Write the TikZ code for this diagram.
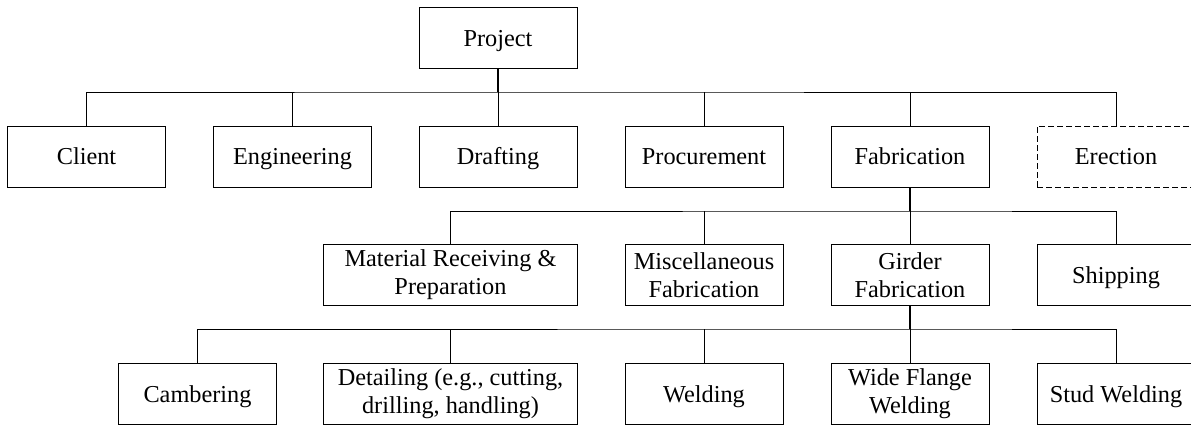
\documentclass[tikz,border=0pt]{standalone}
\usepackage{fontspec}
\setmainfont{Liberation Serif}
\begin{document}
\begin{tikzpicture}[x=1pt,y=-1pt,
  box/.style={draw=black, line width=1pt, rectangle, inner sep=0pt,
    minimum width=158pt, minimum height=61pt,
    text height=16.5pt, text depth=0pt,
    font=\fontsize{24.3}{28}\selectfont},
  twoline/.style={box, align=center, text height=, text depth=},
  widebox/.style={twoline, minimum width=254pt},
  dashbox/.style={box, dash pattern=on 6pt off 3pt},
  link/.style={draw=black, line width=1pt},
  trunk/.style={draw=black, line width=1.8pt}]
\useasboundingbox (0,0) rectangle (1191,428);

% top
\node[box] (project) at (498,38) {Project};

% first level
\node[box] (client)   at (86.5,156.5) {Client};
\node[box] (eng)      at (292.5,156.5) {Engineering};
\node[box] (draft)    at (498,156.5) {Drafting};
\node[box] (proc)     at (704,156.5) {Procurement};
\node[box] (fab)      at (910,156.5) {Fabrication};
\node[dashbox] (erect) at (1116,156.5) {Erection};

% fabrication breakdown
\node[widebox] (matl) at (450.5,275) {Material Receiving \&\\Preparation};
\node[twoline] (misc) at (704,275) {Miscellaneous\\Fabrication};
\node[twoline] (girder) at (910,275) {Girder\\Fabrication};
\node[box] (ship)     at (1116,275) {Shipping};

% girder fabrication breakdown
\node[box] (camb)     at (197.5,394) {Cambering};
\node[widebox] (det)  at (450.5,394) {Detailing (e.g., cutting,\\drilling, handling)};
\node[box] (weld)     at (704,394) {Welding};
\node[twoline] (wfw)  at (910,394) {Wide Flange\\Welding};
\node[box] (stud)     at (1116,394) {Stud Welding};

% bus coordinates
\coordinate (b1) at (498,92);
\coordinate (b2) at (910,211);
\coordinate (b3) at (910,329);

% level 1 connectors
\draw[trunk] (project.south) -- (b1);
\draw[link] (client.north) |- (b1) -| (erect.north);
\foreach \n in {eng,draft,proc,fab} \draw[link] (\n.north) -- (\n.north |- b1);

% level 2 connectors
\draw[trunk] (fab.south) -- (b2);
\draw[link] (matl.north) |- (b2) -| (ship.north);
\foreach \n in {misc,girder} \draw[link] (\n.north) -- (\n.north |- b2);

% level 3 connectors
\draw[trunk] (girder.south) -- (b3);
\draw[link] (camb.north) |- (b3) -| (stud.north);
\foreach \n in {det,weld,wfw} \draw[link] (\n.north) -- (\n.north |- b3);
\end{tikzpicture}
\end{document}
